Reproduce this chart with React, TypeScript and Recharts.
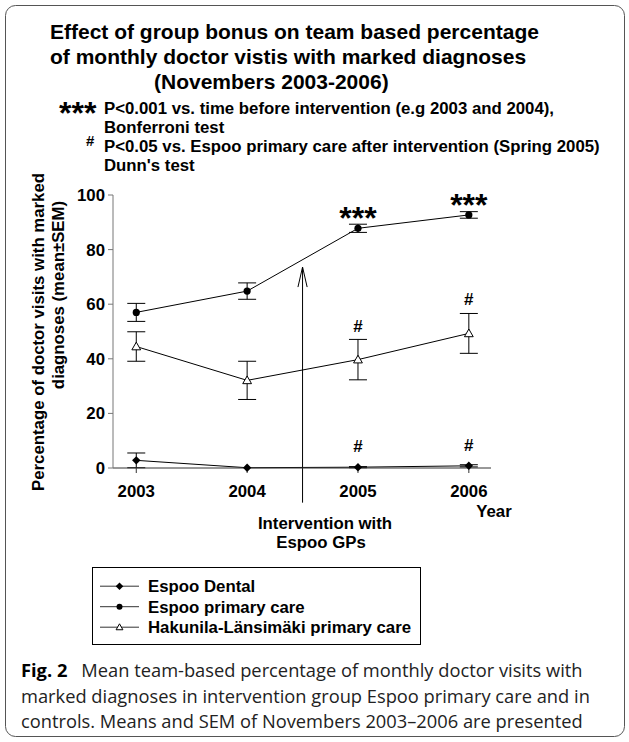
import React from 'react';
import { LineChart, Line, XAxis, YAxis, ErrorBar, LabelList, ReferenceLine, Legend } from 'recharts';

// Novembers 2003-2006, mean ± SEM (%)
const years = [2003, 2004, 2005, 2006];
const dentalMean = [2.8, 0.1, 0.3, 0.8];
const dentalSem = [2.7, 0, 0.2, 0.4];
const primaryMean = [57.0, 64.8, 87.8, 92.7];
const primarySem = [3.3, 3.0, 1.5, 1.2];
const hakunilaMean = [44.5, 32.1, 39.7, 49.3];
const hakunilaSem = [5.4, 7.0, 7.4, 7.3];

// significance marks per year
const dentalSig = ['', '', '#', '#'];
const primarySig = ['', '', '***', '***'];
const hakunilaSig = ['', '', '#', '#'];

const yTicks = [0, 20, 40, 60, 80, 100];
const seriesNames = ['Espoo Dental', 'Espoo primary care', 'Hakunila-Länsimäki primary care'];

// intervention arrow (between 2004 and 2005)
const interventionYear = 2004.5;
const arrowTop = 73.6;
const arrowBottom = -12.7;

const data = years.map((year, i) => ({
  year,
  dental: dentalMean[i],
  dentalErr: dentalSem[i],
  dentalSig: dentalSig[i],
  primary: primaryMean[i],
  primaryErr: primarySem[i],
  primarySig: primarySig[i],
  hakunila: hakunilaMean[i],
  hakunilaErr: hakunilaSem[i],
  hakunilaSig: hakunilaSig[i],
}));

const F = "'Liberation Sans', Arial, Helvetica, sans-serif";
const CAP = "'Open Sans', 'Noto Sans', sans-serif";

const Diamond = ({ cx, cy, r = 4.2 }: any) => (
  <path d={`M${cx},${cy - r}L${cx + r},${cy}L${cx},${cy + r}L${cx - r},${cy}Z`} fill="#000" />
);
const Dot = ({ cx, cy, r = 3.6 }: any) => <circle cx={cx} cy={cy} r={r} fill="#000" />;
const Tri = ({ cx, cy, s = 4.4 }: any) => (
  <path
    d={`M${cx},${cy - s}L${cx + s},${cy + s * 0.75}L${cx - s},${cy + s * 0.75}Z`}
    fill="#fff"
    stroke="#000"
    strokeWidth={1}
  />
);

const marks: Record<string, any> = { dental: Diamond, primary: Dot, hakunila: Tri };

const sigLabel = (lift: number, size: number) => (props: any) => {
  const { x, y, value, index } = props;
  if (!value) return null;
  return (
    <text
      key={`s${index}`}
      x={x}
      y={y - lift}
      textAnchor="middle"
      fontSize={size}
      fontWeight="bold"
      fontFamily={F}
      fill="#000"
    >
      {value}
    </text>
  );
};

const arrowShape = (p: any) => {
  const { x1, y1, x2, y2 } = p;
  const top = Math.min(y1, y2);
  const bottom = Math.max(y1, y2);
  return (
    <g>
      <line x1={x1} x2={x2} y1={top} y2={bottom} stroke="#000" strokeWidth={1} />
      <path d={`M${x1 - 4.6},${top + 20} L${x1},${top} L${x1 + 4.6},${top + 20}`} fill="none" stroke="#000" strokeWidth={1} />
    </g>
  );
};

const renderLegend = (props: any) => {
  const payload = [...(props.payload || [])].sort(
    (a: any, b: any) => seriesNames.indexOf(a.value) - seriesNames.indexOf(b.value)
  );
  return (
    <div style={{ width: 329, height: 78, border: '1px solid #000', boxSizing: 'border-box', background: '#fff' }}>
      <svg width={327} height={76} style={{ display: 'block' }}>
        {payload.map((entry: any, i: number) => {
          const y = 18.2 + i * 20.5;
          const Mark = marks[entry.dataKey];
          return (
            <g key={entry.value}>
              <line x1={7} x2={46} y1={y} y2={y} stroke="#333" strokeWidth={1} />
              <Mark cx={26.5} cy={y} r={entry.dataKey === 'primary' ? 3 : 3.8} s={3.4} />
              <text x={55} y={y + 6} fontSize={16.8} fontWeight="bold" fontFamily={F} fill="#000">
                {entry.value}
              </text>
            </g>
          );
        })}
      </svg>
    </div>
  );
};

const tickStyle = { fontSize: 16.8, fontWeight: 700, fill: '#000', fontFamily: F };

export default function App() {
  return (
    <div style={{ position: 'absolute', left: 0, top: 0, width: 629, height: 742, background: '#fff' }}>
      <svg width={629} height={742} style={{ position: 'absolute', left: 0, top: 0 }}>
        <rect x={5.5} y={5.5} width={619} height={731} rx={10} fill="none" stroke="#555" strokeWidth={1} />
        <g fontFamily={F} fontWeight="bold" fill="#000">
          <text x={50} y={38.5} fontSize={21}>Effect of group bonus on team based percentage</text>
          <text x={50} y={64} fontSize={21}>of monthly doctor vistis with marked diagnoses</text>
          <text x={154} y={89} fontSize={21}>(Novembers 2003-2006)</text>

          <text x={59} y={124} fontSize={32}>***</text>
          <text x={104} y={113.5} fontSize={16.8}>P&lt;0.001 vs. time before intervention (e.g 2003 and 2004),</text>
          <text x={104} y={133} fontSize={16.8}>Bonferroni test</text>
          <text x={86} y={146} fontSize={15}>#</text>
          <text x={104} y={151.5} fontSize={16.8}>P&lt;0.05 vs. Espoo primary care after intervention (Spring 2005)</text>
          <text x={104} y={171} fontSize={16.8}>Dunn's test</text>

          <text transform="translate(44, 332) rotate(-90)" textAnchor="middle" fontSize={16.8}>
            Percentage of doctor visits with marked
          </text>
          <text transform="translate(63.5, 295) rotate(-90)" textAnchor="middle" fontSize={16.8}>
            diagnoses (mean±SEM)
          </text>

          <text x={494} y={517} textAnchor="middle" fontSize={16.8}>Year</text>
          <text x={325} y={528.5} textAnchor="middle" fontSize={16.8}>Intervention with</text>
          <text x={321} y={548} textAnchor="middle" fontSize={16.8}>Espoo GPs</text>
        </g>
        <g fontFamily={CAP} fontSize={18.3} fill="#222">
          <text x={21} y={676.5}>
            <tspan fontWeight={700} fill="#000">Fig. 2</tspan>
            <tspan dx={14}>Mean team-based percentage of monthly doctor visits with</tspan>
          </text>
          <text x={21} y={702.5}>marked diagnoses in intervention group Espoo primary care and in</text>
          <text x={21} y={728.3}>controls. Means and SEM of Novembers 2003–2006 are presented</text>
        </g>
      </svg>

      <div style={{ position: 'absolute', left: 0, top: 0 }}>
        <LineChart width={629} height={560} data={data} margin={{ top: 195, right: 138, bottom: 52, left: 53 }}>
          <XAxis
            dataKey="year"
            type="number"
            domain={[2002.79, 2006.2]}
            ticks={years}
            allowDataOverflow
            height={40}
            tickSize={5}
            tickMargin={12}
            axisLine={{ stroke: '#333' }}
            tickLine={{ stroke: '#333' }}
            tick={tickStyle}
          />
          <XAxis
            xAxisId="top"
            orientation="top"
            dataKey="year"
            type="number"
            domain={[2002.79, 2006.2]}
            allowDataOverflow
            height={0}
            tick={false}
            tickLine={false}
            axisLine={{ stroke: '#555' }}
          />
          <YAxis
            domain={[0, 100]}
            ticks={yTicks}
            width={60}
            tickSize={5}
            tickMargin={3}
            axisLine={{ stroke: '#777' }}
            tickLine={{ stroke: '#777' }}
            tick={tickStyle}
          />
          <YAxis
            yAxisId="right"
            orientation="right"
            domain={[0, 100]}
            width={0}
            tick={false}
            tickLine={false}
            axisLine={{ stroke: '#555' }}
          />
          <ReferenceLine
            segment={[
              { x: interventionYear, y: arrowTop },
              { x: interventionYear, y: arrowBottom },
            ]}
            ifOverflow="visible"
            stroke="#000"
            shape={arrowShape}
          />
          <Line
            dataKey="dental"
            name={seriesNames[0]}
            stroke="#000"
            strokeWidth={1}
            isAnimationActive={false}
            dot={(p: any) => <Diamond key={`d${p.index}`} cx={p.cx} cy={p.cy} />}
          >
            <ErrorBar dataKey="dentalErr" direction="y" width={9} stroke="#000" strokeWidth={1} isAnimationActive={false} />
            <LabelList dataKey="dentalSig" content={sigLabel(15, 17)} />
          </Line>
          <Line
            dataKey="primary"
            name={seriesNames[1]}
            stroke="#000"
            strokeWidth={1}
            isAnimationActive={false}
            dot={(p: any) => <Dot key={`p${p.index}`} cx={p.cx} cy={p.cy} />}
          >
            <ErrorBar dataKey="primaryErr" direction="y" width={9} stroke="#000" strokeWidth={1} isAnimationActive={false} />
            <LabelList dataKey="primarySig" content={sigLabel(-1, 32)} />
          </Line>
          <Line
            dataKey="hakunila"
            name={seriesNames[2]}
            stroke="#000"
            strokeWidth={1}
            isAnimationActive={false}
            dot={(p: any) => <Tri key={`h${p.index}`} cx={p.cx} cy={p.cy} />}
          >
            <ErrorBar dataKey="hakunilaErr" direction="y" width={9} stroke="#000" strokeWidth={1} isAnimationActive={false} />
            <LabelList dataKey="hakunilaSig" content={sigLabel(28, 17)} />
          </Line>
          <Legend
            layout="vertical"
            align="center"
            verticalAlign="middle"
            content={renderLegend}
            wrapperStyle={{ left: 91.5, top: 567.3, width: 329, height: 78 }}
          />
        </LineChart>
      </div>
    </div>
  );
}
